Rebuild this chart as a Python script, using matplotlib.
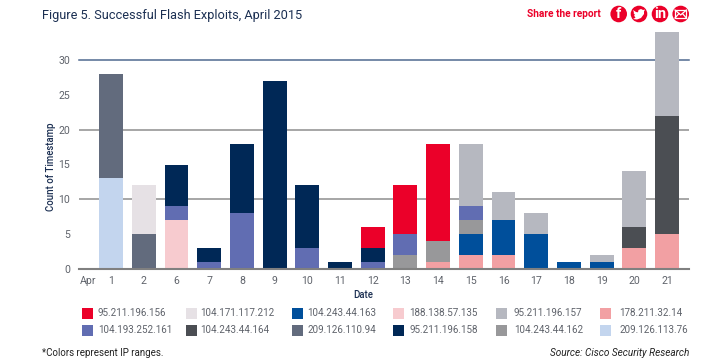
#!/usr/bin/env python3
# coding=utf-8
import matplotlib
matplotlib.use("Agg")
import matplotlib.pyplot as plt
from matplotlib.patches import Circle, Polygon, Rectangle
import numpy as np

W, H = 708, 360

dates = ["1", "2", "6", "7", "8", "9", "10", "11", "12", "13", "14", "15", "16", "17", "18", "19", "20", "21"]

# one list per IP, one value per date
ip_113_76 = [13, 0, 0, 0, 0, 0, 0, 0, 0, 0, 0, 0, 0, 0, 0, 0, 0, 0]
ip_32_14 = [0, 0, 0, 0, 0, 0, 0, 0, 0, 0, 1, 2, 2, 0, 0, 0, 3, 5]
ip_57_135 = [0, 0, 7, 0, 0, 0, 0, 0, 0, 0, 0, 0, 0, 0, 0, 0, 0, 0]
ip_44_163 = [0, 0, 0, 0, 0, 0, 0, 0, 0, 0, 0, 3, 5, 5, 1, 1, 0, 0]
ip_44_164 = [0, 0, 0, 0, 0, 0, 0, 0, 0, 0, 0, 0, 0, 0, 0, 0, 3, 17]
ip_44_162 = [0, 0, 0, 0, 0, 0, 0, 0, 0, 2, 3, 2, 0, 0, 0, 0, 0, 0]
ip_252_161 = [0, 0, 2, 1, 8, 0, 3, 0, 1, 3, 0, 2, 0, 0, 0, 0, 0, 0]
ip_110_94 = [15, 5, 0, 0, 0, 0, 0, 0, 0, 0, 0, 0, 0, 0, 0, 0, 0, 0]
ip_117_212 = [0, 7, 0, 0, 0, 0, 0, 0, 0, 0, 0, 0, 0, 0, 0, 0, 0, 0]
ip_196_158 = [0, 0, 6, 2, 10, 27, 9, 1, 2, 0, 0, 0, 0, 0, 0, 0, 0, 0]
ip_196_157 = [0, 0, 0, 0, 0, 0, 0, 0, 0, 0, 0, 9, 4, 3, 0, 1, 8, 12]
ip_196_156 = [0, 0, 0, 0, 0, 0, 0, 0, 3, 7, 14, 0, 0, 0, 0, 0, 0, 0]

# bottom to top
stack = [
    (ip_113_76, "#C3D5EE"), (ip_32_14, "#F2A0A3"), (ip_57_135, "#F7CBCF"),
    (ip_44_163, "#004F9B"), (ip_44_164, "#4B4E53"), (ip_44_162, "#98989A"),
    (ip_252_161, "#616DB2"), (ip_110_94, "#626B7D"), (ip_117_212, "#E6E1E5"),
    (ip_196_158, "#002856"), (ip_196_157, "#B6B8C0"), (ip_196_156, "#EB0029"),
]

legend_row1 = [("95.211.196.156", "#EB0029"), ("104.171.117.212", "#E6E1E5"), ("104.243.44.163", "#004F9B"),
               ("188.138.57.135", "#F7CBCF"), ("95.211.196.157", "#B6B8C0"), ("178.211.32.14", "#F2A0A3")]
legend_row2 = [("104.193.252.161", "#616DB2"), ("104.243.44.164", "#4B4E53"), ("209.126.110.94", "#626B7D"),
               ("95.211.196.158", "#002856"), ("104.243.44.162", "#98989A"), ("209.126.113.76", "#C3D5EE")]
swatch_x = [82, 186, 292, 393, 496, 600]
text_x = [98, 200, 307, 409, 514, 619]

NAVY = "#1B2F52"
GREY = "#5F636B"
RED = "#EB0029"
FONT = "Roboto"


def main():
    plt.rcParams["font.family"] = [FONT, "DejaVu Sans"]
    fig = plt.figure(figsize=(W / 100, H / 100), dpi=100)

    # axes box in pixels: x 79..689, y 60 (=30) .. 269 (=0)
    ax = fig.add_axes([79 / W, 1 - 269 / H, 610 / W, 209 / H])
    x = np.arange(len(dates))
    bottom = np.zeros(len(dates))
    for values, color in stack:
        ax.bar(x, values, width=0.73, bottom=bottom, color=color, linewidth=0, zorder=3, clip_on=False)
        bottom += np.array(values)

    ax.set_xlim(-0.98, 17.67)
    ax.set_ylim(0, 30)
    ax.set_yticks(range(0, 31, 5))
    ax.set_xticks(x)
    ax.set_xticklabels(dates)
    ax.tick_params(length=0, labelsize=7.6, labelcolor=GREY)
    ax.tick_params(axis="x", pad=5)
    ax.tick_params(axis="y", pad=6.5)
    for side in ["top", "left", "right", "bottom"]:
        ax.spines[side].set_visible(False)
    for val in [10, 20]:
        ax.axhline(val, color="#8E8E8E", lw=1.1, zorder=1)
    ax.axhline(30, color="#4F6A90", lw=1.1, zorder=1, clip_on=False)
    ax.axhline(0, color="#808080", lw=1.5, zorder=4, clip_on=False)

    def px_text(px, py, s, **kw):
        fig.text(px / W, 1 - py / H, s, **kw)

    px_text(80, 281, "Apr", fontsize=7.6, color=GREY, va="center", ha="left")
    px_text(50.5, 166.5, "Count of Timestamp", fontsize=6.9, color=NAVY, fontweight="medium", rotation=90,
            ha="center", va="center")
    px_text(363, 295, "Date", fontsize=6.9, color=NAVY, fontweight="medium", ha="center", va="center")
    px_text(42, 15, "Figure 5. Successful Flash Exploits, April 2015", fontsize=9.15, color=NAVY, va="center")
    px_text(527, 14, "Share the report", fontsize=7.3, color=RED, fontweight="bold", va="center")

    # legend
    for row, py in ((legend_row1, 313), (legend_row2, 330)):
        for (label, color), sx, tx in zip(row, swatch_x, text_x):
            fig.add_artist(Rectangle((sx / W, 1 - (py + 5.5) / H), 11 / W, 11 / H, transform=fig.transFigure,
                                     facecolor=color, linewidth=0))
            px_text(tx, py, label, fontsize=7.1, color=GREY, va="center")

    px_text(42, 353, "*Colors represent IP ranges.", fontsize=7, color="#222222", va="center")
    px_text(689, 353, "Source: Cisco Security Research", fontsize=7.2, color="#222222", style="italic",
            ha="right", va="center")

    # share icons in a pixel-space overlay
    over = fig.add_axes([0, 0, 1, 1], facecolor="none")
    over.set_xlim(0, W)
    over.set_ylim(H, 0)
    over.axis("off")
    for cx, glyph in zip([618.7, 660], ["f", "in"]):
        over.add_patch(Circle((cx, 14), 8.3, color=RED, lw=0))
        over.text(cx, 14.5, glyph, color="white", fontsize=10.5, fontweight="bold", ha="center", va="center")
    over.add_patch(Circle((639, 14), 8.3, color=RED, lw=0))
    # rough bird shape
    over.add_patch(Polygon([(633, 10), (636, 12), (638, 12.3), (638.5, 10), (641, 9), (643, 10), (645, 9.6),
                            (644, 11.5), (644, 14), (641, 18), (637, 19.5), (633, 19), (635.5, 17.7),
                            (634, 15.5), (635, 15), (633.5, 13), (634, 12.5)], color="white", lw=0))
    over.add_patch(Circle((680.7, 14), 8.3, color=RED, lw=0))
    over.add_patch(Rectangle((675, 10), 11.4, 8, facecolor="none", edgecolor="white", lw=0.9))
    over.plot([675, 680.7, 686.4], [10, 15, 10], color="white", lw=0.9)
    over.plot([675, 679], [18, 13.5], color="white", lw=0.9)
    over.plot([686.4, 682.4], [18, 13.5], color="white", lw=0.9)

    fig.savefig("out.png", dpi=100)


if __name__ == '__main__':
    main()
